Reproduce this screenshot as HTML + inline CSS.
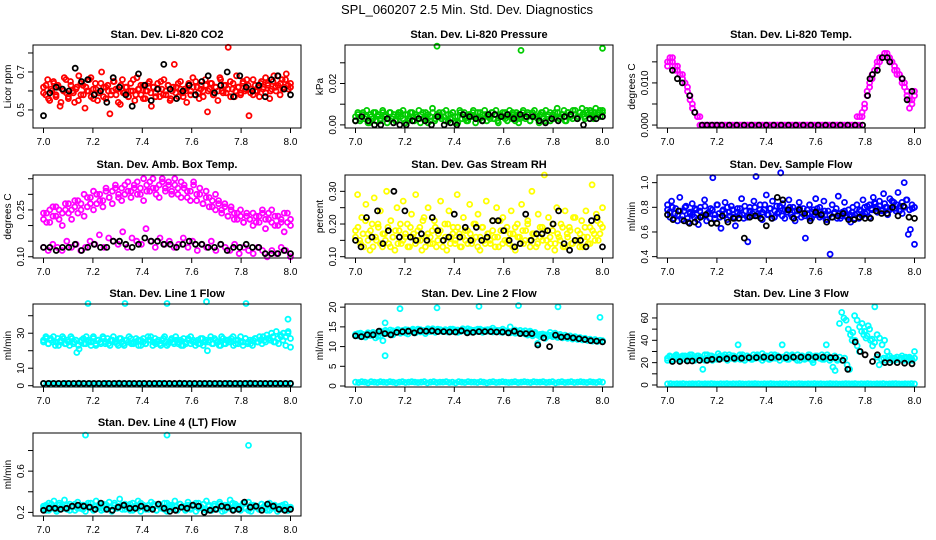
<!DOCTYPE html>
<html><head><meta charset="utf-8">
<style>
body{margin:0;background:#fff;}
svg{display:block;font-family:"Liberation Sans",Helvetica,sans-serif;}
</style></head>
<body>
<svg id="chart" width="936" height="540" viewBox="0 0 936 540">
<text x="467" y="14" text-anchor="middle" font-size="13">SPL_060207  2.5 Min. Std. Dev. Diagnostics</text>
</svg>
<script>
// ---- x ticks ----
const xTicks=[7.0,7.2,7.4,7.6,7.8,8.0];
const xTickLabels=["7.0","7.2","7.4","7.6","7.8","8.0"];

// ---- Panel 1: CO2 ----
const co2Red=[.62,.58,.66,.55,.60,.64,.57,.63,.52,.61,.67,.59,.56,.65,.60,.54,.62,.68,.58,.63,.51,.60,.66,.57,.61,.64,.55,.59,.70,.62,.56,.63,.48,.60,.65,.58,.61,.53,.66,.59,.62,.57,.64,.60,.55,.67,.61,.58,.63,.56,.60,.65,.52,.62,.59,.64,.57,.61,.66,.58,.63,.55,.60,.74,.62,.57,.65,.59,.61,.54,.64,.60,.67,.58,.62,.56,.63,.60,.66,.49,.61,.64,.58,.62,.55,.67,.60,.63,.59,.83,.65,.61,.57,.68,.62,.59,.64,.60,.66,.47,.61,.58,.63,.60,.57,.65,.62,.59,.64,.56,.61,.68,.60,.63,.58,.66,.62,.69,.61,.64];
const co2Red2=[.59,.63,.56,.61,.65,.58,.62,.54,.60,.66,.57,.63,.59,.61,.55,.64,.58,.62,.60,.67,.56,.61,.59,.64,.57,.62,.60,.58,.65,.61,.54,.63,.59,.62,.57,.60,.66,.58,.61,.63,.56,.60,.64,.59,.62,.57,.61,.65,.58,.60,.63,.56,.62,.59,.64,.61,.57,.60,.63,.58,.62,.65,.59,.61,.57,.63,.60,.64,.58,.62,.60,.66,.59,.63,.61,.57,.64,.60,.62,.58,.65,.61,.63,.59,.66,.60,.62,.64,.61,.67,.63,.60,.65,.62,.68,.64,.61,.66,.63,.62];
const co2Black=[.47,.59,.62,.61,.60,.72,.65,.66,.58,.60,.54,.67,.62,.58,.52,.69,.63,.55,.61,.74,.61,.56,.60,.63,.58,.65,.68,.59,.63,.70,.57,.68,.62,.60,.63,.57,.66,.68,.61,.58];
// ---- Panel 2: Pressure ----
const presGreen=[.004,.006,.002,.005,.003,.007,.001,.004,.006,.002,.005,.003,.007,.004,.001,.006,.003,.005,.002,.006,.004,.007,.001,.005,.003,.006,.002,.004,.007,.005,.003,.006,.001,.004,.008,.002,.005,.006,.003,.004,.007,.002,.005,.006,.001,.004,.007,.003,.006,.002,.005,.004,.007,.001,.006,.003,.005,.007,.002,.004,.006,.003,.007,.001,.005,.004,.006,.002,.007,.003,.005,.006,.001,.004,.007,.003,.006,.002,.005,.007,.004,.001,.006,.003,.007,.005,.002,.004,.006,.008,.003,.005,.007,.002,.006,.004,.007,.005,.003,.006,.008,.004,.007,.005,.006,.003,.008,.006,.004,.007];
const presGreen2=[.002,.005,.003,.006,.004,.001,.005,.003,.006,.004,.002,.006,.005,.003,.006,.004,.002,.005,.006,.003,.005,.002,.006,.004,.005,.003,.001,.006,.004,.005,.002,.006,.003,.005,.004,.006,.002,.005,.003,.006,.004,.001,.006,.005,.003,.002,.005,.006,.004,.003,.006,.002,.005,.004,.003,.006,.005,.002,.004,.006,.003,.005,.004,.006,.002,.005,.003,.006,.004,.005,.002,.006,.004,.003,.005,.006,.002,.004,.006,.005,.003,.006,.004,.005,.002,.006,.005,.003,.007,.004,.006,.005,.003,.006,.007,.004,.006,.005,.007,.006];
const presGreenOutX=[7.33,7.67,8.0];
const presGreenOutY=[.038,.036,.037];
const presBlack=[.002,.004,.002,.000,.000,.003,.001,.000,.000,.002,.003,.002,.000,.004,.000,.001,.000,.005,.004,.003,.002,.005,.005,.004,.005,.003,.005,.004,.004,.002,.001,.003,.002,.004,.005,.003,.000,.003,.003,.004];
// ---- Panel 3: Li-820 Temp ----
const tempMag=[.015,.016,.015,.013,.014,.012,.011,.010,.008,.006,.004,.003,.002,0,0,0,0,0,0,0,0,0,0,0,0,0,0,0,0,0,0,0,0,0,0,0,0,0,0,0,0,0,0,0,0,0,0,0,0,0,0,0,0,0,0,0,0,0,0,0,0,0,0,0,0,0,0,0,0,0,0,0,0,0,0,0,0,0,.002,.004,.007,.009,.011,.013,.014,.015,.016,.017,.017,.016,.015,.014,.013,.012,.011,.010,.008,.006,.005,.007];
const tempMag2=[.014,.015,.016,.014,.013,.012,.012,.010,.009,.007,.005,.003,.002,.002,0,0,0,0,0,0,0,0,0,0,0,0,0,0,0,0,0,0,0,0,0,0,0,0,0,0,0,0,0,0,0,0,0,0,0,0,0,0,0,0,0,0,0,0,0,0,0,0,0,0,0,0,0,0,0,0,0,0,0,0,0,0,.002,.002,.003,.005,.008,.010,.012,.013,.015,.016,.016,.017,.016,.015,.015,.013,.012,.012,.010,.009,.007,.004,.006,.008];
const tempBlackX=[7.02,7.04,7.06,7.09,7.11,7.14,7.16,7.18,7.2,7.22,7.25,7.28,7.31,7.34,7.37,7.4,7.43,7.46,7.49,7.52,7.55,7.58,7.61,7.64,7.67,7.7,7.73,7.76,7.79,7.81,7.82,7.83,7.85,7.87,7.89,7.9,7.95,7.97,7.99];
const tempBlackY=[.013,.011,.010,.007,.003,0,0,0,0,0,0,0,0,0,0,0,0,0,0,0,0,0,0,0,0,0,0,0,0,.007,.011,.012,.013,.016,.016,.015,.011,.006,.008];
// ---- Panel 4: Amb Box Temp ----
const ambUpper=[.22,.24,.21,.26,.23,.25,.20,.27,.24,.22,.26,.28,.25,.23,.29,.27,.25,.30,.28,.26,.31,.29,.27,.32,.30,.28,.33,.31,.29,.32,.34,.30,.28,.33,.31,.35,.32,.29,.34,.31,.33,.30,.35,.32,.29,.33,.31,.28,.34,.30,.32,.27,.31,.29,.26,.30,.28,.25,.27,.23,.26,.24,.22,.25,.21,.24,.22,.20,.23,.21,.24,.19,.22,.25,.20,.23,.21,.18,.24,.20];
const ambUpper2=[.24,.21,.25,.23,.26,.22,.24,.25,.27,.25,.28,.24,.27,.30,.26,.29,.31,.27,.30,.28,.32,.29,.31,.33,.29,.32,.30,.34,.31,.33,.30,.32,.35,.31,.34,.32,.30,.33,.35,.32,.34,.31,.33,.30,.34,.32,.29,.31,.33,.28,.30,.27,.29,.26,.28,.25,.27,.24,.26,.23,.25,.22,.24,.23,.21,.23,.22,.24,.21,.23,.25,.22,.24,.21,.23,.20,.22,.24,.21,.22];
const ambLower=[.13,.12,.14,.13,.12,.15,.13,.14,.12,.13,.15,.14,.17,.13,.16,.15,.14,.18,.13,.16,.15,.14,.19,.15,.13,.16,.14,.15,.13,.14,.16,.13,.15,.12,.14,.13,.15,.12,.14,.13,.12,.14,.11,.13,.12,.11,.13,.12,.10,.12,.11,.13,.12,.10];
const ambBlack=[.13,.13,.12,.13,.13,.14,.12,.13,.14,.13,.13,.15,.15,.14,.13,.14,.16,.15,.15,.14,.14,.13,.14,.15,.14,.14,.13,.13,.14,.12,.13,.13,.14,.13,.13,.11,.11,.11,.12,.11];
// ---- Panel 5: Gas Stream RH ----
const rhYellow=[.18,.29,.15,.22,.13,.26,.17,.12,.20,.28,.15,.19,.24,.13,.17,.30,.14,.21,.16,.12,.25,.18,.14,.27,.16,.20,.13,.23,.17,.29,.15,.19,.12,.22,.16,.25,.14,.18,.21,.13,.17,.27,.15,.20,.12,.24,.16,.19,.14,.29,.17,.13,.22,.15,.18,.26,.14,.20,.16,.23,.12,.19,.15,.27,.17,.14,.21,.16,.25,.13,.18,.22,.15,.19,.14,.24,.17,.12,.20,.16,.26,.14,.18,.21,.15,.30,.17,.13,.23,.16,.19,.35,.15,.22,.14,.18,.12,.25,.16,.20,.13,.24,.17,.19,.14,.22,.15,.18,.13,.21,.16,.24,.14,.19,.32,.17,.23,.15,.20,.25];
const rhYellow2=[.16,.19,.14,.17,.21,.15,.18,.13,.16,.20,.14,.17,.15,.19,.13,.16,.18,.14,.20,.15,.17,.13,.19,.16,.14,.18,.15,.21,.13,.17,.16,.14,.19,.15,.18,.13,.16,.20,.14,.17,.15,.19,.13,.16,.18,.14,.17,.15,.20,.13,.16,.19,.14,.17,.15,.18,.13,.16,.21,.14,.18,.15,.17,.13,.19,.16,.14,.18,.15,.20,.13,.17,.16,.14,.19,.15,.18,.13,.16,.20,.14,.17,.15,.19,.13,.16,.18,.14,.22,.15,.17,.13,.19,.16,.14,.18,.15,.21,.17,.19];
const rhBlack=[.15,.13,.22,.16,.24,.14,.18,.30,.16,.24,.16,.15,.17,.15,.22,.18,.15,.16,.23,.16,.19,.15,.19,.15,.16,.21,.21,.18,.15,.13,.14,.23,.15,.17,.17,.18,.20,.24,.14,.12,.15,.15,.13,.21,.22,.13];
// ---- Panel 6: Sample Flow ----
const sfBlue=[.82,.76,.85,.71,.79,.74,.88,.70,.77,.81,.68,.75,.83,.72,.78,.66,.80,.73,.86,.69,.76,.79,1.04,.71,.82,.75,.63,.78,.84,.70,.76,.81,.72,.65,.79,.74,.87,.71,.77,.52,.80,.73,.85,1.05,.75,.82,.70,.78,.90,.74,.79,.85,.72,.81,.76,1.08,.83,.71,.78,.86,.74,.80,.69,.77,.84,.72,.79,.55,.75,.82,.71,.78,.87,.74,.80,.73,.85,.70,.77,.42,.82,.75,.79,.89,.71,.76,.84,.73,.78,.68,.80,.74,.82,.71,.77,.86,.75,.81,.72,.79,.88,.83,.76,.85,.78,.91,.80,.74,.87,.79,.84,.77,.92,.81,.75,1.0,.86,.58,.62,.79,.50];
const sfBlue2=[.78,.72,.80,.75,.69,.77,.73,.80,.71,.76,.74,.79,.70,.77,.73,.81,.75,.71,.78,.74,.82,.72,.77,.75,.80,.73,.78,.71,.76,.79,.74,.81,.72,.77,.75,.80,.73,.78,.76,.82,.74,.79,.71,.77,.75,.81,.73,.78,.76,.80,.72,.77,.74,.79,.75,.73,.78,.71,.76,.74,.79,.72,.75,.77,.70,.74,.72,.76,.71,.75,.73,.77,.72,.74,.76,.71,.75,.78,.73,.80,.76,.82,.78,.84,.79,.81,.77,.83,.80,.78,.85,.79,.82,.77,.84,.80,.86,.78,.82,.80];
const sfBlack=[.74,.70,.77,.69,.67,.68,.72,.74,.67,.67,.73,.68,.71,.71,.55,.72,.73,.71,.65,.71,.88,.86,.78,.71,.78,.75,.69,.76,.74,.68,.72,.73,.75,.70,.70,.72,.71,.71,.77,.75,.75,.80,.73,.81,.72,.71];
// ---- Panel 7: Line 1 ----
const l1Cyan=[26,28,24,27,25,23,27,25,28,24,26,23,27,25,19,21,26,24,28,25,23,27,24,26,25,28,24,27,23,26,25,24,27,25,23,26,28,24,25,27,23,26,25,24,28,26,23,27,25,24,26,28,23,25,27,24,26,25,23,27,24,26,28,25,23,26,24,27,25,20,26,24,27,25,23,28,24,26,25,27,23,26,24,28,25,27,24,26,23,27,25,28,24,26,29,27,30,25,31,24,28,30,23,31,22];
const l1Cyan2=[25,27,24,26,28,25,23,26,27,24,25,28,24,26,23,25,27,24,26,25,28,23,26,24,27,25,24,26,28,25,23,27,24,26,25,27,24,25,26,23,27,24,26,28,25,24,26,23,27,25,24,26,25,28,24,26,23,25,27,24,26,25,24,27,23,26,25,28,24,26,25,23,27,24,26,25,28,24,26,25,23,27,25,24,26,27,25,26,28,25,27,26,28,25,27,29,26,28,30,27];
const l1CyanOutX=[7.18,7.33,7.5,7.66,7.82,7.99];
const l1CyanOutY=[47,47,47,48,47,38];
const l1Bottom=[1.2,1,1.3,.9,1.1,1.2,1,1.3,1.1,.9,1.2,1,1.1,1.3,1,1.2,.9,1.1,1.2,1,1.3,1.1,1,1.2,.9,1.1,1.3,1,1.2,1.1,1,1.2,1.3,.9,1.1,1,1.2,1.1,1.3,1,1.2,.9,1.1,1,1.2,1.3,1.1,1,1.2,.9,1.1,1.2,1,1.3,1.1,1,1.2,1.1,.9,1.3,1.1,1,1.2,.9,1.1,1.3,1,1.2,1.1,.9,1.2,1,1.1,1.3,1,1.2,.9,1.1,1.2,1];
const l1Black=[1.3,1.3,1.3,1.3,1.3,1.3,1.3,1.4,1.3,1.3,1.3,1.3,1.3,1.3,1.3,1.4,1.3,1.3,1.3,1.3,1.3,1.3,1.3,1.3,1.3,1.3,1.3,1.4,1.3,1.3,1.3,1.3,1.3,1.3,1.3,1.3,1.3,1.3,1.3,1.3,1.3,1.4,1.3,1.3,1.3,1.3,1.3,1.3,1.3,1.3];
// ---- Panel 8: Line 2 ----
const l2Cyan=[12.8,13.3,12.6,13.1,12.4,13.5,12.9,13.2,12.2,13.4,12.7,11.5,13.9,13.3,14.2,13.0,13.6,14.1,13.4,13.8,14.3,13.2,13.9,14.0,13.5,14.4,13.7,14.1,13.3,14.2,13.8,14.5,13.6,14.0,14.3,13.9,14.1,13.7,14.4,13.8,14.2,13.6,14.0,14.3,13.9,14.5,13.7,14.1,13.8,14.4,14.0,13.6,14.2,13.9,14.3,14.7,13.8,14.1,13.7,14.4,14.0,13.9,15.0,13.8,14.2,13.5,14.1,13.7,14.0,13.3,13.9,13.1,13.6,10.8,12.5,13.2,12.1,13.0,13.6,12.8,13.4,12.6,13.1,12.4,12.9,12.2,12.7,12.0,12.5,11.9,12.3,11.7,12.1,11.6,11.9,11.4,11.8,11.3,11.6,11.5];
const l2Cyan2=[13.1,12.7,13.4,12.9,12.5,13.2,12.8,13.6,13.0,12.6,13.9,13.5,14.1,13.7,13.4,14.0,13.6,14.3,13.8,14.1,13.5,14.2,13.9,14.4,13.7,14.0,14.3,13.8,14.1,14.5,13.9,14.2,13.7,14.4,14.0,13.8,14.3,14.1,13.9,14.4,14.0,14.2,13.8,14.5,14.1,13.9,14.3,14.0,14.2,13.8,14.4,14.1,13.9,14.3,14.0,13.7,14.2,13.9,14.1,13.6,14.0,13.8,13.5,13.9,13.4,13.7,13.3,13.6,13.2,12.9,13.5,12.7,13.3,12.9,13.1,12.8,13.0,12.6,12.9,12.5,12.8,12.3,12.6,12.2,12.4,12.1,12.3,11.9,12.2,11.8,12.0,11.7,11.9,11.6,11.8,11.5,11.7,11.4,11.6,11.4];
const l2CyanOutX=[7.12,7.12,7.18,7.33,7.5,7.66,7.82,7.99];
const l2CyanOutY=[7.7,16,19.6,19.8,20.2,20.4,20.1,17.4];
const l2Bottom=[1,.9,1.1,1,.8,1.1,1,.9,1.1,1,.9,1.1,1,.8,1,1.1,.9,1,1.1,1,.9,1,1.1,.8,1,1.1,.9,1,1,1.1,.9,1,.8,1.1,1,.9,1.1,1,1,.9,1.1,1,.8,1,1.1,.9,1,1.1,1,.9,1,1.1,.9,1,1.1,1,.9,1.1,1,1,1.1,.9,1,1.1,.8,1,1.1,.9,1,1.1,.9,1,1.1,1,.9,1.1,1,.9,1.1,1];
const l2Black=[12.7,12.5,13.0,13.0,13.9,13.3,13.0,13.6,13.8,13.9,13.5,14.0,13.9,14.0,13.8,13.8,13.7,13.7,14.0,13.5,13.6,13.8,13.8,13.8,13.7,13.7,13.5,13.9,13.3,13.3,13.3,10.4,12.2,10.0,12.9,12.4,12.5,12.2,12.0,11.8,11.5,11.4,11.2];
// ---- Panel 9: Line 3 ----
const l3Cyan=[24,26,22,25,27,23,25,24,26,22,25,27,23,24,26,25,14,22,27,24,26,23,25,28,24,26,25,23,27,24,26,25,36,23,27,24,26,25,23,27,24,26,25,28,24,26,23,27,25,24,26,25,36,24,27,23,26,25,24,27,22,26,25,24,27,23,20,26,25,24,27,23,36,25,24,16,13,22,55,65,60,58,50,45,47,40,35,30,48,45,42,53,40,35,70,25,18,23,24,22,25,23,24,22,25,23,24,22,25,23,24,22,30];
const l3Cyan2=[22,25,23,26,24,22,26,23,25,27,24,22,26,25,23,27,24,26,22,25,23,26,24,27,22,25,26,23,24,27,25,22,26,24,23,25,27,24,22,26,25,23,24,27,26,22,25,24,23,26,27,24,22,25,26,23,24,27,22,25,26,24,23,25,27,22,24,26,23,25,22,24,18,14,40,62,58,52,55,48,44,50,41,38,45,42,36,40,30,26,22,24,25,23,26,24,22,25,23,24];
const l3Bottom=[1,1.2,.9,1.1,1,1.2,.9,1,1.1,1,1.2,.9,1.1,1,1.2,1,.9,1.1,1,1.2,.9,1.1,1,1.2,1,.9,1.1,1,1.2,1,.9,1.1,1,1.2,1,.9,1.1,1,1.2,.9,1.1,1,1.2,1,.9,1.1,1,1.2,1,1.1,.9,1,1.2,1,1.1,.9,1,1.2,1.1,1,1.2,.9,1.1,1,1.2,1,.9,1.1,1,1.2,.9,1,1.1,1.2,1,.9,1.1,1,1.2,1];
const l3BlackX=[7.02,7.05,7.08,7.1,7.13,7.16,7.18,7.21,7.24,7.27,7.3,7.33,7.36,7.39,7.42,7.45,7.48,7.51,7.54,7.57,7.6,7.63,7.66,7.68,7.71,7.73,7.76,7.78,7.8,7.83,7.85,7.88,7.9,7.93,7.96,7.99];
const l3BlackY=[21,21,21.5,21.5,22,22,23,23,23.5,24,24,24.5,24.5,25,24.5,25,24.5,25,25,25,25,25,24.5,24.5,22,14,38.5,30,27,21,27,20,20,20,19.5,19];
// ---- Panel 10: Line 4 ----
const l4Cyan=[.26,.22,.29,.24,.31,.21,.27,.25,.32,.23,.28,.26,.22,.30,.24,.27,.21,.29,.25,.23,.31,.26,.22,.28,.24,.30,.21,.27,.25,.33,.23,.28,.26,.22,.29,.24,.31,.21,.27,.25,.23,.30,.26,.22,.28,.24,.29,.21,.27,.25,.31,.23,.28,.26,.22,.30,.24,.27,.21,.29,.25,.23,.31,.26,.22,.28,.24,.30,.21,.27,.25,.32,.23,.28,.26,.22,.29,.24,.30,.21,.27,.25,.23,.28,.26,.22,.29,.24,.27,.21,.26,.23,.28,.22,.25];
const l4Cyan2=[.24,.27,.22,.28,.25,.23,.29,.26,.24,.27,.22,.25,.28,.24,.26,.23,.27,.25,.29,.22,.26,.24,.28,.23,.27,.25,.22,.29,.24,.26,.27,.23,.25,.28,.22,.26,.24,.29,.25,.23,.27,.24,.28,.22,.26,.25,.23,.29,.24,.27,.26,.22,.28,.25,.24,.27,.23,.26,.29,.24,.25,.28,.22,.27,.24,.26,.23,.28,.25,.22,.27,.24,.29,.26,.23,.25,.28,.24,.22,.27,.25,.26,.23,.28,.24,.27,.22,.25,.26,.24,.23,.27,.25,.22,.24];
const l4CyanOutX=[7.17,7.5,7.83];
const l4CyanOutY=[.95,.95,.85];
const l4Black=[.22,.24,.24,.23,.24,.26,.27,.26,.25,.23,.29,.23,.22,.25,.27,.24,.24,.26,.24,.23,.28,.24,.21,.22,.25,.24,.27,.26,.20,.22,.23,.26,.25,.22,.23,.30,.25,.26,.22,.28,.26,.23,.22,.23];

const panels=[
 {name:"co2",title:"Stan. Dev. Li-820 CO2",yt:"Licor ppm",bx:33,by:45,dom:[0.405,0.842],ticks:[0.5,0.6,0.7,0.8],labels:["0.5","","0.7",""],
  series:[{v:co2Red,c:"#ff0000"},{v:co2Red2,c:"#ff0000"},{v:co2Black,c:"#000"}]},
 {name:"pressure",title:"Stan. Dev. Li-820 Pressure",yt:"kPa",bx:345,by:45,dom:[-0.0015,0.0386],ticks:[0,0.01,0.02,0.03],labels:["0.00","","0.02",""],
  series:[{v:presGreen,c:"#00cc00"},{v:presGreen2,c:"#00cc00"},{x:presGreenOutX,v:presGreenOutY,c:"#00cc00"},{v:presBlack,c:"#000"}]},
 {name:"temp",title:"Stan. Dev. Li-820 Temp.",yt:"degrees C",bx:657,by:45,dom:[-0.0007,0.019],ticks:[0,0.005,0.01,0.015],labels:["0.000","","0.010",""],
  series:[{v:tempMag,c:"#ff00ff"},{v:tempMag2,c:"#ff00ff"},{x:tempBlackX,v:tempBlackY,c:"#000"}]},
 {name:"amb-temp",title:"Stan. Dev. Amb. Box Temp.",yt:"degrees C",bx:33,by:175,dom:[0.096,0.362],ticks:[0.1,0.15,0.2,0.25,0.3,0.35],labels:["0.10","","","0.25","",""],
  series:[{v:ambUpper,c:"#ff00ff"},{v:ambUpper2,c:"#ff00ff"},{v:ambLower,c:"#ff00ff"},{v:ambBlack,c:"#000"}]},
 {name:"rh",title:"Stan. Dev. Gas Stream RH",yt:"percent",bx:345,by:175,dom:[0.096,0.35],ticks:[0.1,0.15,0.2,0.25,0.3],labels:["0.10","","0.20","","0.30"],
  series:[{v:rhYellow,c:"#ffff00"},{v:rhYellow2,c:"#ffff00"},{v:rhBlack,c:"#000"}]},
 {name:"sample-flow",title:"Stan. Dev. Sample Flow",yt:"ml/min",bx:657,by:175,dom:[0.389,1.062],ticks:[0.4,0.6,0.8,1.0],labels:["0.4","0.6","0.8","1.0"],
  series:[{v:sfBlue,c:"#0000ff"},{v:sfBlue2,c:"#0000ff"},{v:sfBlack,c:"#000"}]},
 {name:"line1",title:"Stan. Dev. Line 1 Flow",yt:"ml/min",bx:33,by:304,dom:[-0.74,46.7],ticks:[0,10,20,30,40],labels:["0","10","","30",""],
  series:[{v:l1Cyan,c:"#00ffff"},{v:l1Cyan2,c:"#00ffff"},{x:l1CyanOutX,v:l1CyanOutY,c:"#00ffff"},{v:l1Bottom,c:"#00ffff"},{v:l1Black,c:"#000"}]},
 {name:"line2",title:"Stan. Dev. Line 2 Flow",yt:"ml/min",bx:345,by:304,dom:[-0.25,20.8],ticks:[0,5,10,15,20],labels:["0","5","10","15","20"],
  series:[{v:l2Cyan,c:"#00ffff"},{v:l2Cyan2,c:"#00ffff"},{x:l2CyanOutX,v:l2CyanOutY,c:"#00ffff"},{v:l2Bottom,c:"#00ffff"},{v:l2Black,c:"#000"}]},
 {name:"line3",title:"Stan. Dev. Line 3 Flow",yt:"ml/min",bx:657,by:304,dom:[-1.8,72.5],ticks:[0,10,20,30,40,50,60],labels:["0","","20","","40","","60"],
  series:[{v:l3Cyan,c:"#00ffff"},{v:l3Cyan2,c:"#00ffff"},{v:l3Bottom,c:"#00ffff"},{x:l3BlackX,v:l3BlackY,c:"#000"}]},
 {name:"line4",title:"Stan. Dev. Line 4 (LT) Flow",yt:"ml/min",bx:33,by:433,dom:[0.165,0.97],ticks:[0.2,0.4,0.6,0.8],labels:["0.2","","0.6",""],
  series:[{v:l4Cyan,c:"#00ffff"},{v:l4Cyan2,c:"#00ffff"},{x:l4CyanOutX,v:l4CyanOutY,c:"#00ffff"},{v:l4Black,c:"#000"}]}
];

const NS="http://www.w3.org/2000/svg";
const svg=document.getElementById("chart");
const W=268,H=83;
function mk(tag,attrs,parent){const e=document.createElementNS(NS,tag);for(const k in attrs)e.setAttribute(k,attrs[k]);parent.appendChild(e);return e;}

panels.forEach(p=>{
 const g=mk("g",{},svg);
 
 
 const xs=v=>p.bx+10.5+(v-7)*247;
 const ys=v=>p.by+H-(v-p.dom[0])/(p.dom[1]-p.dom[0])*H;
 p.series.forEach(s=>{
  const n=s.v.length;
  s.v.forEach((val,i)=>{
   const xv=s.x?s.x[i]:7+i/(n-1);
   const c=mk("circle",{cx:xs(xv).toFixed(1),cy:ys(val).toFixed(1),r:2.5,fill:"none",stroke:s.c,"stroke-width":1.8},g);
   
   
  });
 });
 const box=mk("rect",{x:p.bx,y:p.by,width:W,height:H,fill:"none",stroke:"#000","stroke-width":1},g);
 
 
 const t=mk("text",{x:p.bx+W/2,y:p.by-7,"text-anchor":"middle","font-size":11,"font-weight":"bold"},g);
 t.textContent=p.title;
 
 
 xTicks.forEach((v,i)=>{
  const x=xs(v);
  mk("line",{x1:x,x2:x,y1:p.by+H,y2:p.by+H+5,stroke:"#000"},g);
  const l=mk("text",{x:x,y:p.by+H+17,"text-anchor":"middle","font-size":10},g);
  l.textContent=xTickLabels[i];
  
  
 });
 p.ticks.forEach((v,i)=>{
  const y=ys(v);
  mk("line",{x1:p.bx-5,x2:p.bx,y1:y,y2:y,stroke:"#000"},g);
  if(p.labels[i]){
   const l=mk("text",{x:0,y:0,"text-anchor":"middle","font-size":10,transform:`translate(${p.bx-9},${y}) rotate(-90)`},g);
   l.textContent=p.labels[i];
   
   
  }
 });
 const yt=mk("text",{x:0,y:0,"text-anchor":"middle","font-size":10,transform:`translate(${p.bx-22},${p.by+H/2}) rotate(-90)`},g);
 yt.textContent=p.yt;
 
 
});
</script>
</body></html>
